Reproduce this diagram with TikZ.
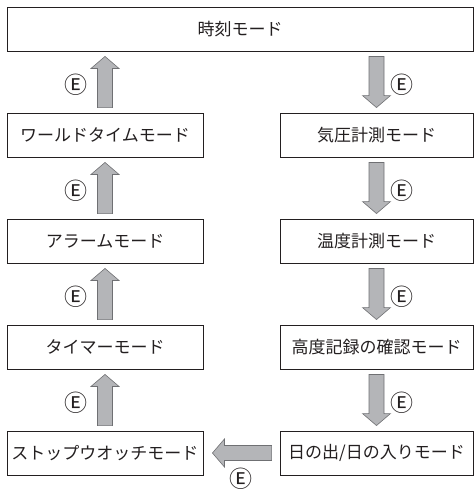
\documentclass[tikz,border=0pt]{standalone}
\usepackage{fontspec}
\setmainfont{Noto Sans CJK JP}
\usetikzlibrary{calc}
\definecolor{ink}{HTML}{231F20}
\definecolor{arrowfill}{HTML}{B4B5B8}
\definecolor{arrowline}{HTML}{6F7073}
\tikzset{
  modebox/.style={draw=ink, line width=0.9pt, fill=white, minimum height=44pt,
    inner sep=0pt, font=\fontsize{17}{18}\selectfont, text=ink},
  leftbox/.style={modebox, minimum width=196pt},
  rightbox/.style={modebox, minimum width=193pt},
  blockarrow/.style={fill=arrowfill, draw=arrowline, line width=0.6pt, line join=miter},
  ekey/.style={font=\fontsize{23}{23}\selectfont, text=ink, inner sep=0pt}
}
% fat arrow from #1 to #2
\newcommand\fatarrow[2]{%
  \path[blockarrow] let \p1=(#1), \p2=(#2),
    \n1={atan2(\y2-\y1,\x2-\x1)}, \n2={veclen(\x2-\x1,\y2-\y1)} in
    [shift={(\p1)}, rotate=\n1, x=1pt, y=1pt]
    (0,-7.5) -- (\n2-12pt,-7.5) -- (\n2-12pt,-14) -- (\n2,0) -- (\n2-12pt,14)
    -- (\n2-12pt,7.5) -- (0,7.5) -- cycle;}
\begin{document}
\begin{tikzpicture}[x=1pt, y=-1pt]
\useasboundingbox (0,0) rectangle (474,490);
\node[modebox, minimum width=466pt] (top) at (240,29) {時刻モード};
\node[leftbox] (l1) at (105,135) {ワールドタイムモード};
\node[leftbox] (l2) at (105,241) {アラームモード};
\node[leftbox] (l3) at (105,347) {タイマーモード};
\node[leftbox] (l4) at (105,453) {ストップウオッチモード};
\node[rightbox] (r1) at (376.5,135) {気圧計測モード};
\node[rightbox] (r2) at (376.5,241) {温度計測モード};
\node[rightbox] (r3) at (376.5,347) {高度記録の確認モード};
\node[rightbox] (r4) at (376.5,453) {日の出/日の入りモード};
% connector end points
\coordinate (a0s) at ($(top.south -| r1.north)+(0,5)$);
\coordinate (a0e) at ($(r1.north)+(0,-5)$);
\coordinate (a1s) at ($(r1.south)+(0,5)$);
\coordinate (a1e) at ($(r2.north)+(0,-5)$);
\coordinate (a2s) at ($(r2.south)+(0,5)$);
\coordinate (a2e) at ($(r3.north)+(0,-5)$);
\coordinate (a3s) at ($(r3.south)+(0,5)$);
\coordinate (a3e) at ($(r4.north)+(0,-5)$);
\coordinate (a4s) at ($(r4.west)+(-8,0)$);
\coordinate (a4e) at ($(l4.east)+(9,0)$);
\coordinate (a5s) at ($(l4.north)+(0,-5)$);
\coordinate (a5e) at ($(l3.south)+(0,5)$);
\coordinate (a6s) at ($(l3.north)+(0,-5)$);
\coordinate (a6e) at ($(l2.south)+(0,5)$);
\coordinate (a7s) at ($(l2.north)+(0,-5)$);
\coordinate (a7e) at ($(l1.south)+(0,5)$);
\coordinate (a8s) at ($(l1.north)+(0,-5)$);
\coordinate (a8e) at ($(top.south -| l1.north)+(0,5)$);
\fatarrow{a0s}{a0e}
\fatarrow{a1s}{a1e}
\fatarrow{a2s}{a2e}
\fatarrow{a3s}{a3e}
\fatarrow{a4s}{a4e}
\fatarrow{a5s}{a5e}
\fatarrow{a6s}{a6e}
\fatarrow{a7s}{a7e}
\fatarrow{a8s}{a8e}
% labels
\node[ekey] (e0) at ($(a0s)!0.5!(a0e)+(25,3)$) {Ⓔ};
\node[ekey] (e1) at ($(a1s)!0.5!(a1e)+(25,3)$) {Ⓔ};
\node[ekey] (e2) at ($(a2s)!0.5!(a2e)+(25,3)$) {Ⓔ};
\node[ekey] (e3) at ($(a3s)!0.5!(a3e)+(25,3)$) {Ⓔ};
\node[ekey] (e4) at ($(a4s)!0.5!(a4e)+(-1,25.5)$) {Ⓔ};
\node[ekey] (e5) at ($(a5s)!0.5!(a5e)+(-29,3)$) {Ⓔ};
\node[ekey] (e6) at ($(a6s)!0.5!(a6e)+(-29,3)$) {Ⓔ};
\node[ekey] (e7) at ($(a7s)!0.5!(a7e)+(-29,3)$) {Ⓔ};
\node[ekey] (e8) at ($(a8s)!0.5!(a8e)+(-29,3)$) {Ⓔ};
\end{tikzpicture}
\end{document}
